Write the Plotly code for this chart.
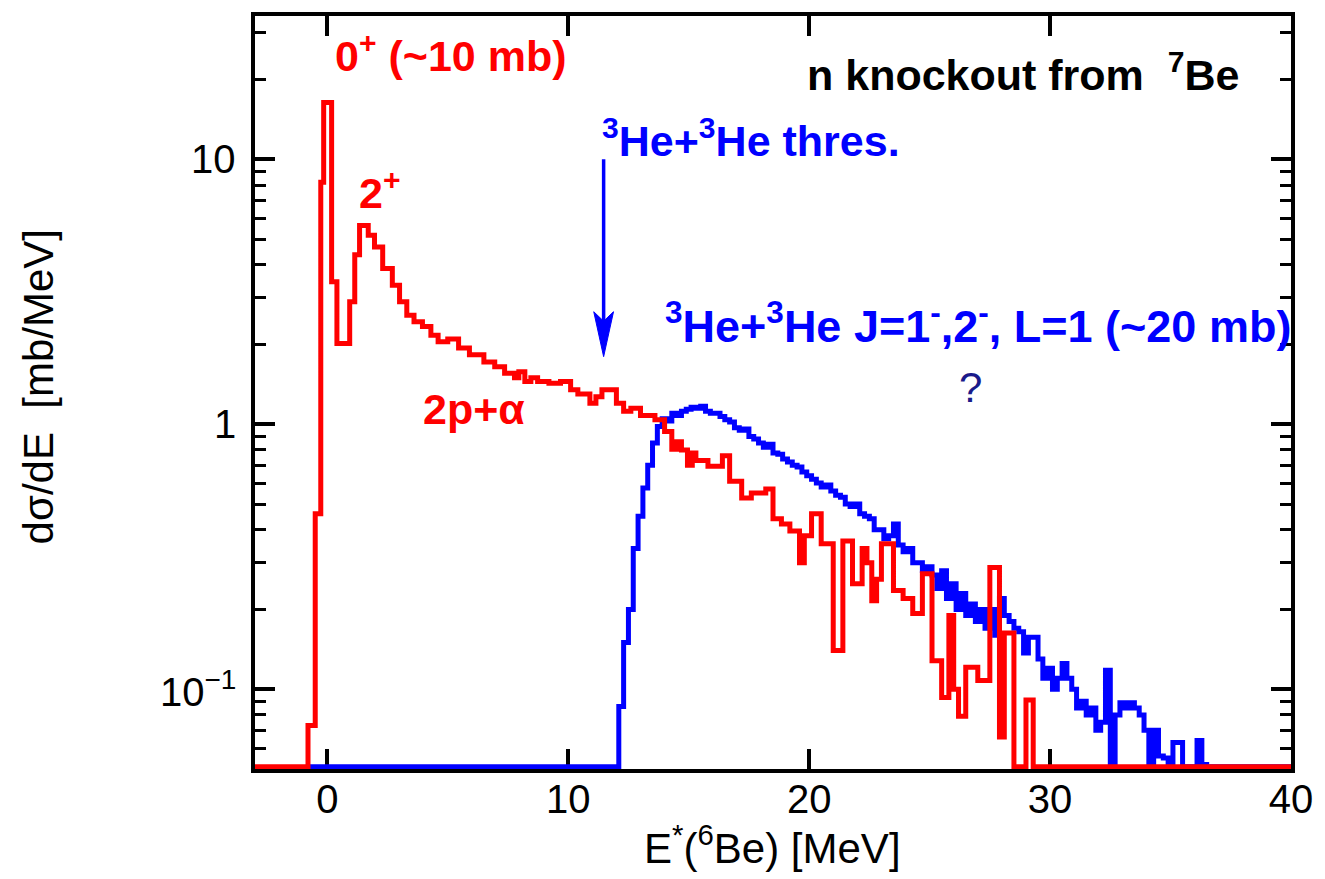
import math
import plotly.graph_objects as go

FONT = "Liberation Sans, Arial, Helvetica, sans-serif"
FLOOR = 0.051  # zero bins are drawn on the lower frame

# ---- red histogram: 2p+alpha (bin left edges, values in mb/MeV) ----
red_edges = [-3.0, -0.8, -0.5, -0.27, -0.15, 0.18, 0.40, 0.93, 1.14, 1.34,
             1.70, 1.96, 2.30, 2.70, 3.00, 3.30, 3.60, 3.95, 4.30, 4.60,
             5.00, 5.45, 5.90, 6.50, 6.95, 7.36, 7.77, 7.95, 8.20, 8.45,
             8.73, 9.20, 9.68, 10.10, 10.40, 10.90, 11.15, 11.40, 12.00, 12.30,
             12.60, 13.00, 13.60, 14.00, 14.30, 14.50, 14.70, 14.95, 15.15, 15.30,
             15.80, 16.40, 16.70, 17.20, 17.60, 18.20, 18.50, 18.85, 19.20, 19.60,
             19.80, 20.10, 20.50, 21.00, 21.40, 21.80, 22.20, 22.40, 22.60, 22.80,
             23.00, 23.50, 23.90, 24.30, 24.70, 25.10, 25.50, 25.80, 26.00, 26.20,
             26.50, 27.00, 27.50, 27.90, 28.10, 28.50, 29.00, 29.30, 40.0]
red_vals = [FLOOR, 0.073, 0.46, 8.2, 16.4, 3.45, 2.02, 2.9, 4.36, 5.63,
            5.17, 4.67, 3.87, 3.35, 2.90, 2.58, 2.44, 2.34, 2.17, 2.05,
            2.10, 1.94, 1.83, 1.72, 1.65, 1.56, 1.50, 1.58, 1.45, 1.50,
            1.45, 1.43, 1.45, 1.35, 1.30, 1.20, 1.27, 1.35, 1.20, 1.12,
            1.15, 1.08, 1.04, 0.94, 0.805, 0.86, 0.80, 0.70, 0.78, 0.73,
            0.695, 0.76, 0.61, 0.527, 0.55, 0.57, 0.44, 0.42, 0.396, 0.30,
            0.38, 0.46, 0.354, 0.14, 0.363, 0.25, 0.34, 0.30, 0.216, 0.26,
            0.354, 0.236, 0.22, 0.193, 0.273, 0.128, 0.093, 0.19, 0.10, 0.079,
            0.121, 0.108, 0.288, 0.066, 0.163, FLOOR, 0.091, FLOOR]

# ---- blue histogram: 3He+3He (0.2 MeV bins starting at 12.1 MeV) ----
blue_start = 12.1
blue_bin = 0.2
blue_vals = [0.086, 0.15, 0.20, 0.34, 0.45, 0.575, 0.70, 0.85, 0.98, 1.05,
             1.03, 1.10, 1.08, 1.12, 1.14, 1.16, 1.15, 1.17, 1.12, 1.10,
             1.10, 1.07, 1.04, 1.02, 0.97, 0.95, 0.96, 0.90, 0.88, 0.85,
             0.82, 0.84, 0.78, 0.77, 0.74, 0.72, 0.70, 0.69, 0.66, 0.64,
             0.62, 0.60, 0.58, 0.59, 0.56, 0.54, 0.53, 0.50, 0.49, 0.50,
             0.46, 0.45, 0.44, 0.40, 0.40, 0.37, 0.38, 0.42, 0.35, 0.33,
             0.34, 0.30, 0.30, 0.28, 0.29, 0.27, 0.24, 0.28, 0.22, 0.25,
             0.20, 0.23, 0.19, 0.21, 0.18, 0.20, 0.17, 0.20, 0.16, 0.22,
             0.19, 0.18, 0.17, 0.165, 0.137, 0.157, 0.157, 0.13, 0.11, 0.12,
             0.10, 0.11, 0.125, 0.11, 0.10, 0.085, 0.09, 0.08, 0.085, 0.07,
             0.075, 0.118, FLOOR, 0.08, 0.089, 0.085, 0.089, 0.085, 0.08, 0.07,
             FLOOR, 0.07, 0.056, 0.055, FLOOR, 0.063, 0.063, FLOOR, FLOOR, FLOOR,
             0.064, 0.052]
blue_floor_start = -0.75

x_ticks = [0, 10, 20, 30, 40]
y_ticks = [0.1, 1, 10]
y_ticktext = ["10<sup>\u22121</sup>", "1", "10"]
y_minor = [0.06, 0.07, 0.08, 0.09, 0.2, 0.3, 0.4, 0.5, 0.6, 0.7, 0.8, 0.9,
           2, 3, 4, 5, 6, 7, 8, 9, 20, 30]

# threshold arrow (E = 11.47 MeV)
thr_x = 11.47
arrow_top, arrow_head_base, arrow_tip = 10.0, 2.66, 1.80
head_half = 0.41

# ---- build step traces ----
red_x = list(red_edges)
red_y = list(red_vals) + [red_vals[-1]]

blue_x = [blue_floor_start]
blue_y = [FLOOR]
for i, v in enumerate(blue_vals):
    blue_x.append(round(blue_start + blue_bin * i, 3))
    blue_y.append(v)
blue_x.append(round(blue_start + blue_bin * len(blue_vals), 3))
blue_y.append(FLOOR)
blue_x.append(40.0)
blue_y.append(FLOOR)

RED = "#ff0000"
BLUE = "#0000ff"

fig = go.Figure()
fig.add_trace(go.Scatter(x=blue_x, y=blue_y, mode="lines", line_shape="hv",
                         line=dict(color=BLUE, width=5), hoverinfo="skip"))
fig.add_trace(go.Scatter(x=red_x, y=red_y, mode="lines", line_shape="hv",
                         line=dict(color=RED, width=5), hoverinfo="skip"))
# arrow shaft
fig.add_trace(go.Scatter(x=[thr_x, thr_x], y=[arrow_top, 2.4], mode="lines",
                         line=dict(color=BLUE, width=3.5), hoverinfo="skip"))
# arrow head
fig.add_trace(go.Scatter(x=[thr_x - head_half, thr_x, thr_x + head_half, thr_x, thr_x - head_half],
                         y=[arrow_head_base, 2.45, arrow_head_base, arrow_tip, arrow_head_base],
                         mode="lines", fill="toself", fillcolor=BLUE,
                         line=dict(color=BLUE, width=1), hoverinfo="skip"))

# ---- annotations positioned in pixel space ----
L, R, T, B = 255, 1300, 13, 769


def px(X):
    return (X - L) / (R - L)


def py(Y):
    return (B - Y) / (B - T)


def note(text, X, Y, color, size=43, xanchor="left", angle=0):
    fig.add_annotation(text=text, x=px(X), y=py(Y), xref="paper", yref="paper",
                       xanchor=xanchor, yanchor="middle", showarrow=False,
                       textangle=angle,
                       font=dict(family=FONT, size=size, color=color))


note("<b>0<sup>+</sup> (~10 mb)</b>", 334, 50, RED)
note("<b>2<sup>+</sup></b>", 358, 188, RED)
note("<b>2p+\u03b1</b>", 422, 408, RED)
note("<b><sup>3</sup>He+<sup>3</sup>He thres.</b>", 603, 135, BLUE)
note("<b><sup>3</sup>He+<sup>3</sup>He J=1<sup>-</sup>,2<sup>-</sup>, L=1 (~20 mb)</b>",
     1302, 321, BLUE, size=45, xanchor="right")
note("<b>n knockout from  <sup>7</sup>Be</b>", 1250, 69, "black", xanchor="right")
note("?", 977, 386, "#1a1a8a", size=42, xanchor="center")
# axis titles
note("d\u03c3/dE  [mb/MeV]", 37, 385, "black", size=42, xanchor="center", angle=-90)
note("E<sup>*</sup>(<sup>6</sup>Be) [MeV]", 777, 845, "black", size=42, xanchor="center")

# y tick labels placed on the log axis scale
for v, t in zip(y_ticks, y_ticktext):
    fig.add_annotation(text=t, x=px(238), xref="paper", y=math.log10(v), yref="y",
                       xanchor="right", yanchor="middle", showarrow=False,
                       font=dict(family=FONT, size=40, color="black"))

fig.update_layout(
    width=1325, height=879,
    margin=dict(l=L, r=1325 - R, t=T, b=879 - B),
    plot_bgcolor="white", paper_bgcolor="white",
    showlegend=False,
    font=dict(family=FONT, size=40, color="black"),
    xaxis=dict(range=[-3, 40], tickvals=x_ticks, ticks="inside", ticklen=20,
               tickwidth=4, tickcolor="black", showline=True, linewidth=4,
               linecolor="black", mirror="ticks", showgrid=False, zeroline=False,
               tickfont=dict(size=40), layer="below traces",
               ticklabelstandoff=-8),
    yaxis=dict(type="log", range=[-1.301, 1.541], tickvals=y_ticks,
               showticklabels=False, ticks="inside", ticklen=20, tickwidth=4,
               tickcolor="black", showline=True, linewidth=4, linecolor="black",
               mirror="ticks", showgrid=False, zeroline=False,
               layer="below traces",
               minor=dict(tickvals=y_minor, ticks="inside", ticklen=11,
                          tickwidth=3, tickcolor="black", showgrid=False)),
)

fig.write_html("out.html")
